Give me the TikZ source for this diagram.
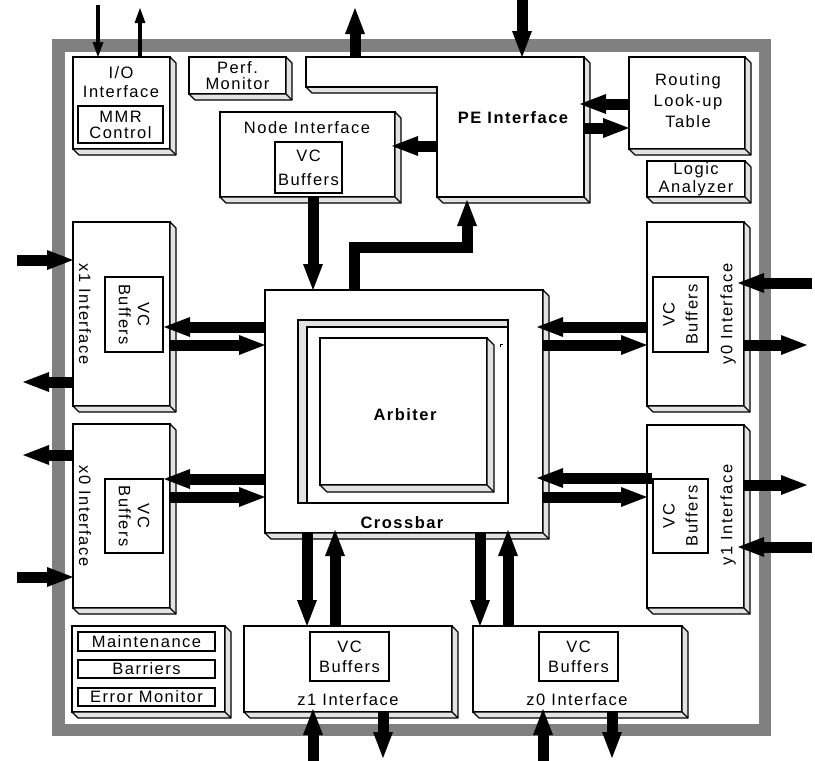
\documentclass[tikz,border=0pt]{standalone}
\usepackage{fontspec}
\setmainfont{Liberation Sans}[LetterSpace=9]
\usetikzlibrary{arrows.meta}
\definecolor{framegray}{HTML}{808080}
\definecolor{facegray}{HTML}{E2E2E2}

% right and bottom faces of an extruded block: node name, depth
\newcommand\slabfaces[2]{%
  \draw[face] (#1.north east) -- ++(#2,#2) -- ([shift={(#2,#2)}]#1.south east)
    -- ([shift={(#2,#2)}]#1.south west) -- (#1.south west) -- (#1.south east) -- cycle;
  \draw[face] (#1.south east) -- ++(#2,#2);}

\begin{document}
\begin{tikzpicture}[x=1pt,y=-1pt,
  txt/.style={font=\fontsize{16.5}{19}\selectfont, align=center, inner sep=0pt},
  boldtxt/.style={font=\fontsize{16.5}{19}\selectfont\bfseries, align=center, inner sep=0pt},
  block/.style={draw=black, line width=1.5pt, fill=white, rectangle, inner sep=0pt,
    outer sep=0pt, anchor=north west},
  cell/.style={draw=black, line width=1.3pt, fill=white, rectangle, inner sep=0pt,
    outer sep=0pt, anchor=north west},
  face/.style={draw=black, line width=1.1pt, fill=facegray, line join=round},
  bus/.style={line width=11pt, line join=miter,
    -{Triangle[length=26pt,width=20pt,line width=0pt]}},
  wire/.style={line width=3.5pt, -{Triangle[length=15pt,width=11pt,line width=0pt]}},
]
\useasboundingbox (0,0) rectangle (815,761);

% chip boundary
\draw[framegray, line width=12.5pt] (58.25,45.25) rectangle (764.75,729.75);

% ---------------- blocks ----------------
\node[block, minimum width=97pt, minimum height=92pt] (io) at (73,57) {};
\node[block, minimum width=97pt, minimum height=37pt] (perf) at (189,57) {};
\node[block, minimum width=116pt, minimum height=92pt] (rlt) at (629,57) {};
\node[block, minimum width=98pt, minimum height=36pt] (la) at (647,161) {};
\node[block, minimum width=175pt, minimum height=85pt] (ni) at (220,112) {};
\node[block, minimum width=97pt, minimum height=184pt] (x1) at (73,222) {};
\node[block, minimum width=97pt, minimum height=184pt] (x0) at (73,424) {};
\node[block, minimum width=97pt, minimum height=184pt] (y0) at (647,222) {};
\node[block, minimum width=97pt, minimum height=183pt] (y1) at (647,425) {};
\node[block, minimum width=278pt, minimum height=243pt] (xbar) at (265,290) {};
\node[block, minimum width=153pt, minimum height=86pt] (misc) at (72,626) {};
\node[block, minimum width=208pt, minimum height=86pt] (z1) at (244,626) {};
\node[block, minimum width=209pt, minimum height=86pt] (z0) at (473,626) {};

\foreach \n in {io,perf,rlt,la,ni,x1,x0,y0,y1,xbar,misc,z1,z0} {\slabfaces{\n}{6}}

% PE interface: L-shaped block
\node[minimum width=147pt, minimum height=140pt, inner sep=0pt, outer sep=0pt,
  anchor=north west] (pebody) at (437,57) {};
\slabfaces{pebody}{6}
\draw[face] (306,87) -- (312,93) -- (pebody.west |- 0,93) -- (pebody.west |- 0,87) -- cycle;
\draw[line width=1.5pt, fill=white, line join=miter] (306,57) -- (pebody.north east)
  -- (pebody.south east) -- (pebody.south west) -- (pebody.west |- 0,87) -- (306,87) -- cycle;

% sunken well and arbiter inside the crossbar
\node[cell, fill=facegray, minimum width=210pt, minimum height=183pt] (well) at (298,320) {};
\fill[white] (307,327) rectangle (well.south east);
\draw[line width=1.1pt] (well.south west -| 307,0) -- (307,327) -- (well.east |- 0,327);
\draw[line width=1.3pt] (well.north west) rectangle (well.south east);
\node[block, minimum width=167pt, minimum height=147pt] (arb) at (320,338) {};
\slabfaces{arb}{7}
\draw[line width=0.8pt] (500,347) -- (500,344) -- (503,344);

% inner cells
\node[cell, minimum width=85pt, minimum height=37pt] (mmr) at (78,106) {};
\node[cell, minimum width=67pt, minimum height=51pt] (nvc) at (275,142) {};
\node[cell, minimum width=58pt, minimum height=75pt] (x1vc) at (105,277) {};
\node[cell, minimum width=58pt, minimum height=74pt] (x0vc) at (105,479) {};
\node[cell, minimum width=55pt, minimum height=75pt] (y0vc) at (653,277) {};
\node[cell, minimum width=55pt, minimum height=74pt] (y1vc) at (653,479) {};
\node[cell, minimum width=79pt, minimum height=49pt] (z1vc) at (310,632) {};
\node[cell, minimum width=79pt, minimum height=49pt] (z0vc) at (539,632) {};
\node[cell, minimum width=137pt, minimum height=19pt] (maint) at (78,632) {};
\node[cell, minimum width=137pt, minimum height=18pt] (barr) at (78,660) {};
\node[cell, minimum width=137pt, minimum height=18pt] (err) at (78,688) {};

% ---------------- labels ----------------
\node[txt] (iot) at (121,82) {I/O\\Interface};
\node[txt, font=\fontsize{16.5}{16}\selectfont] at (mmr.center) {MMR\\Control};
\node[txt, font=\fontsize{16.5}{16}\selectfont] at (perf.center) {Perf.\\Monitor};
\node[txt] (nit) at (307,128) {Node Interface};
\node[boldtxt] (pet) at (513,118) {PE Interface};
\node[txt, font=\fontsize{16.5}{21}\selectfont] at (688,101) {Routing\\Look-up\\Table};
\node[txt, font=\fontsize{16.5}{18}\selectfont] at (la.center) {Logic\\Analyzer};
\node[boldtxt] (arbt) at (405,415) {Arbiter};
\node[boldtxt] (xbart) at (402,523) {Crossbar};
\node[txt, font=\fontsize{16.5}{24}\selectfont] at (nvc.center) {VC\\Buffers};
\node[txt, rotate=-90] at (x1vc.center) {VC\\Buffers};
\node[txt, rotate=-90] at (x0vc.center) {VC\\Buffers};
\node[txt, font=\fontsize{16.5}{23}\selectfont, rotate=90] at (y0vc.center) {VC\\Buffers};
\node[txt, font=\fontsize{16.5}{23}\selectfont, rotate=90] at (y1vc.center) {VC\\Buffers};
\node[txt, font=\fontsize{16.5}{20}\selectfont] at (z1vc.center) {VC\\Buffers};
\node[txt, font=\fontsize{16.5}{20}\selectfont] at (z0vc.center) {VC\\Buffers};
\node[txt, rotate=-90] (x1t) at (85,314) {x1 Interface};
\node[txt, rotate=-90] (x0t) at (85,516) {x0 Interface};
\node[txt, rotate=90] (y0t) at (728,314) {y0 Interface};
\node[txt, rotate=90] (y1t) at (728,515) {y1 Interface};
\node[txt] (z1t) at (348,700) {z1 Interface};
\node[txt] (z0t) at (577,700) {z0 Interface};
\node[txt] at (maint.center) {Maintenance};
\node[txt] at (barr.center) {Barriers};
\node[txt] at (err.center) {Error Monitor};

% ---------------- free ends of external links ----------------
\coordinate (ioin) at (98,5);
\coordinate (ioout) at (140,8);
\coordinate (peout) at (355,8);
\coordinate (pein) at (522,0);
\coordinate (x1in) at (17,260);
\coordinate (x1out) at (23,382);
\coordinate (x0out) at (23,455);
\coordinate (x0in) at (17,577);
\coordinate (y0in) at (812,283);
\coordinate (y0out) at (807,345);
\coordinate (y1out) at (807,485);
\coordinate (y1in) at (812,547);
\coordinate (z1in) at (313,761);
\coordinate (z1out) at (383,758);
\coordinate (z0in) at (543,761);
\coordinate (z0out) at (612,758);

% ---------------- links ----------------
% top edge
\draw[wire] (ioin) -- (ioin |- io.north);
\draw[wire] (ioout |- io.north) -- (ioout);
\draw[bus] (peout |- 0,57) -- (peout);
\draw[bus] (pein) -- (pein |- 0,57);
% routing table and node interface
\draw[bus, shorten >=-4pt] (rlt.west |- 0,104) -- (pebody.east |- 0,104);
\draw[bus] (pebody.east |- 0,128) -- (rlt.west |- 0,128);
\draw[bus, shorten >=-3pt] (pebody.west |- 0,146) -- (ni.east |- 0,146);
\draw[bus] (ni.south -| 313,0) -- (xbar.north -| 313,0);
\draw[bus] (xbar.north -| 354,0) |- (467,247) -- (467,200);
% x ports
\draw[bus, shorten >=-6pt] (xbar.west |- 0,327) -- (x1.east |- 0,327);
\draw[bus] (x1.east |- 0,345) -- (xbar.west |- 0,345);
\draw[bus, shorten >=-6pt] (xbar.west |- 0,479) -- (x0.east |- 0,479);
\draw[bus] (x0.east |- 0,497) -- (xbar.west |- 0,497);
\draw[bus] (x1in) -- (x1in -| x1.west);
\draw[bus] (x1.west |- x1out) -- (x1out);
\draw[bus] (x0.west |- x0out) -- (x0out);
\draw[bus] (x0in) -- (x0in -| x0.west);
% y ports
\draw[bus, shorten >=-6pt] (y0.west |- 0,327) -- (xbar.east |- 0,327);
\draw[bus] (xbar.east |- 0,345) -- (y0.west |- 0,345);
\draw[bus, shorten >=-6pt] (652,478) -- (xbar.east |- 0,478);
\draw[bus] (xbar.east |- 0,497) -- (y1.west |- 0,497);
\draw[bus, shorten >=-6pt] (y0in) -- (y0in -| y0.east);
\draw[bus] (y0.east |- y0out) -- (y0out);
\draw[bus] (y1.east |- y1out) -- (y1out);
\draw[bus, shorten >=-6pt] (y1in) -- (y1in -| y1.east);
% z ports
\draw[bus] (xbar.south -| 307,0) -- (z1.north -| 307,0);
\draw[bus, shorten >=-3pt] (z1.north -| 335,0) -- (xbar.south -| 335,0);
\draw[bus] (xbar.south -| 480,0) -- (z0.north -| 480,0);
\draw[bus, shorten >=-3pt] (z0.north -| 508,0) -- (xbar.south -| 508,0);
\draw[bus, shorten >=-3pt] (z1in) -- (z1in |- z1.south);
\draw[bus] (z1.south -| z1out) -- (z1out);
\draw[bus, shorten >=-3pt] (z0in) -- (z0in |- z0.south);
\draw[bus] (z0.south -| z0out) -- (z0out);
\end{tikzpicture}
\end{document}
